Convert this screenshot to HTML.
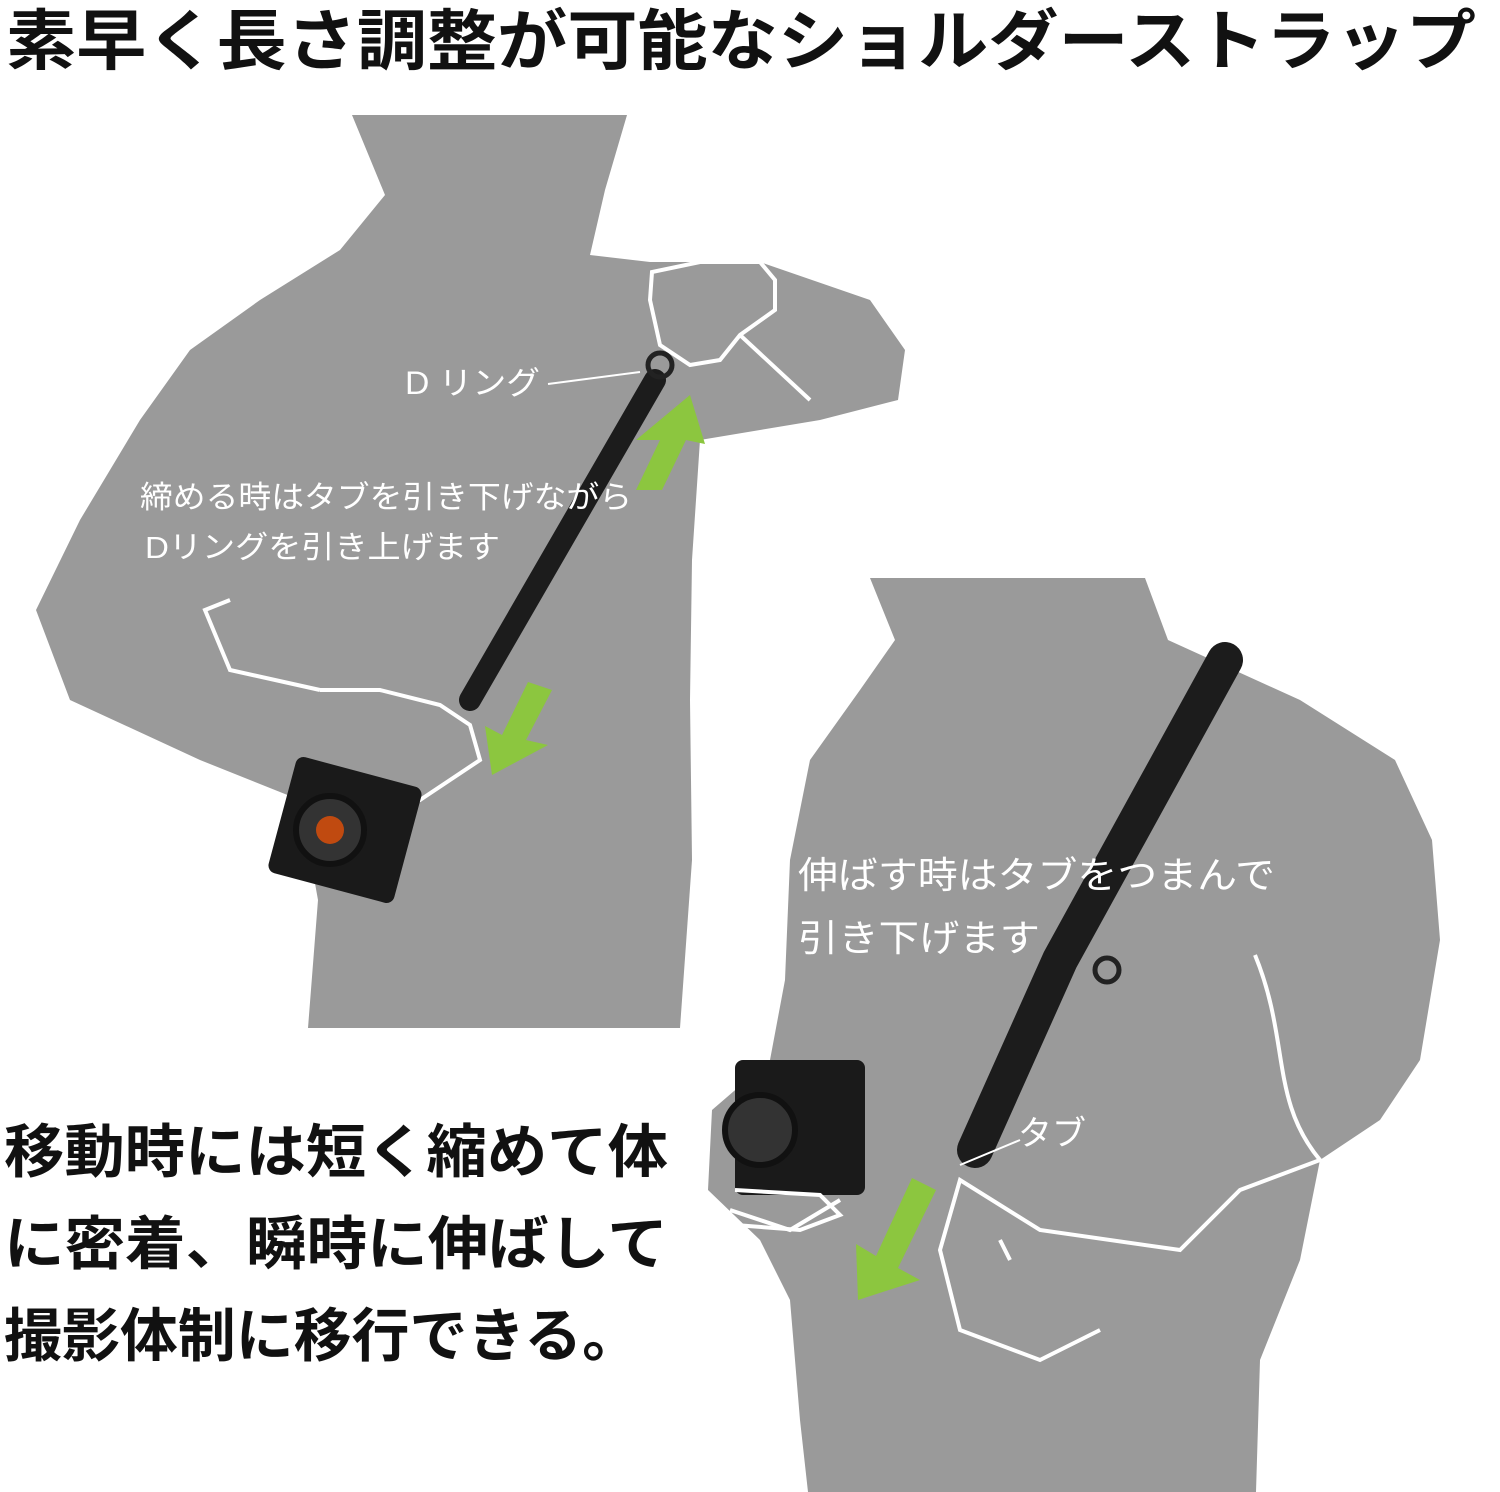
<!DOCTYPE html>
<html><head><meta charset="utf-8"><style>
html,body{margin:0;padding:0;background:#fff;width:1500px;height:1492px;overflow:hidden}
svg{display:block}
text{font-family:"Liberation Sans","Noto Sans CJK JP",sans-serif}
</style></head><body>
<svg width="1500" height="1492" viewBox="0 0 1500 1492" xmlns="http://www.w3.org/2000/svg">
<text x="6" y="64" font-size="66" font-weight="bold" fill="#111" textLength="1470" lengthAdjust="spacingAndGlyphs">素早く長さ調整が可能なショルダーストラップ</text>
<!-- figure 1 -->
<path fill="#9a9a9a" d="M352,115 L627,115 L605,190 L590,255 L650,262 L760,262 L870,300 L905,350 L898,400 L820,420 L700,440 L692,560 L690,700 L692,860 L680,1028 L308,1028 L318,900 L300,800 L200,760 L70,700 L36,610 L80,520 L140,420 L190,350 L260,300 L340,250 L385,195 Z"/>
<path fill="none" stroke="#fff" stroke-width="4" d="M650,300 L652,272 L700,262 L760,262 L775,280 L775,310 L740,335 L720,360 L690,365 L660,345 Z M740,335 L810,400"/>
<path fill="none" stroke="#fff" stroke-width="4" d="M320,690 L380,690 L440,705 L470,725 L480,760 L450,780 L420,800 L380,790 M320,690 L230,670 L205,610 L230,600"/>
<path stroke="#1c1c1c" stroke-width="22" stroke-linecap="round" d="M655,380 L470,700"/>
<circle cx="660" cy="365" r="12" fill="none" stroke="#222" stroke-width="5"/>
<rect x="280" y="770" width="130" height="120" rx="8" fill="#1a1a1a" transform="rotate(15 345 830)"/>
<circle cx="330" cy="830" r="34" fill="#333" stroke="#111" stroke-width="6"/>
<circle cx="330" cy="830" r="14" fill="#c04a10"/>
<polygon fill="#8cc63f" points="690,395 636,440 660,440 636,490 662,490 686,440 705,444"/>
<polygon fill="#8cc63f" points="492,775 548,745 526,740 552,690 528,682 502,735 485,726"/>
<line x1="548" y1="384" x2="640" y2="372" stroke="#fff" stroke-width="2"/>
<text x="405" y="394" font-size="32" fill="#fff" textLength="135" lengthAdjust="spacingAndGlyphs">D リング</text>
<text x="140" y="508" font-size="31" fill="#fff" textLength="492" lengthAdjust="spacingAndGlyphs">締める時はタブを引き下げながら</text>
<text x="145" y="558" font-size="31" fill="#fff" textLength="355" lengthAdjust="spacingAndGlyphs">Dリングを引き上げます</text>
<!-- figure 2 -->
<path fill="#9a9a9a" d="M870,578 L1145,578 L1168,640 L1300,700 L1395,760 L1432,840 L1440,940 L1420,1060 L1380,1120 L1320,1160 L1300,1260 L1260,1360 L1256,1492 L808,1492 L800,1420 L790,1300 L760,1240 L708,1190 L712,1110 L770,1060 L785,980 L790,860 L810,760 L860,690 L895,640 Z"/>
<path stroke="#1c1c1c" stroke-width="36" stroke-linecap="round" d="M1225,660 L1060,960 L975,1150"/>
<circle cx="1107" cy="970" r="12" fill="none" stroke="#222" stroke-width="5"/>
<path fill="none" stroke="#fff" stroke-width="4" d="M1255,955 C1290,1040 1270,1100 1320,1160 L1240,1190 L1180,1250 L1040,1230 L960,1180 L940,1250 L960,1330 L1040,1360 L1100,1330 M730,1210 L790,1230 L840,1200 M1000,1240 L1010,1260"/>
<rect x="735" y="1060" width="130" height="135" rx="8" fill="#1a1a1a"/>
<circle cx="760" cy="1130" r="35" fill="#333" stroke="#111" stroke-width="6"/>
<path fill="none" stroke="#fff" stroke-width="4" d="M735,1190 L820,1195 L840,1215 L800,1230 L735,1225"/>
<polygon fill="#8cc63f" points="858,1300 920,1280 898,1268 936,1190 912,1178 876,1256 856,1244"/>
<line x1="960" y1="1165" x2="1020" y2="1140" stroke="#fff" stroke-width="2"/>
<text x="1018" y="1145" font-size="34" fill="#fff">タブ</text>
<text x="798" y="888" font-size="37" fill="#fff" textLength="477" lengthAdjust="spacingAndGlyphs">伸ばす時はタブをつまんで</text>
<text x="798" y="951" font-size="37" fill="#fff" textLength="242" lengthAdjust="spacingAndGlyphs">引き下げます</text>
<!-- bottom left text -->
<text x="4" y="1172" font-size="58" font-weight="bold" fill="#111" textLength="664" lengthAdjust="spacingAndGlyphs">移動時には短く縮めて体</text>
<text x="4" y="1264" font-size="58" font-weight="bold" fill="#111" textLength="664" lengthAdjust="spacingAndGlyphs">に密着、瞬時に伸ばして</text>
<text x="4" y="1356" font-size="58" font-weight="bold" fill="#111" textLength="636" lengthAdjust="spacingAndGlyphs">撮影体制に移行できる。</text>
</svg>
</body></html>
